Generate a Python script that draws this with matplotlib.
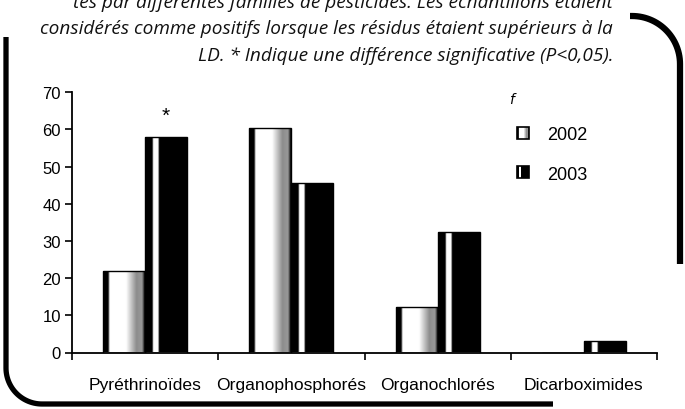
import numpy as np
import matplotlib
matplotlib.use("Agg")
import matplotlib.pyplot as plt
from matplotlib.patches import Rectangle, Patch
from matplotlib.legend_handler import HandlerPatch
from matplotlib.lines import Line2D

# data (% of positive samples)
categories = ["Pyréthrinoïdes", "Organophosphorés", "Organochlorés", "Dicarboximides"]
years = ["2002", "2003"]
values_2002 = [22, 60.5, 12.2, 0]
values_2003 = [58, 45.6, 32.4, 3.1]
significant_2003 = [True, False, False, False]
yticks = [0, 10, 20, 30, 40, 50, 60, 70]

caption_lines = [
    "tés par différentes familles de pesticides. Les échantillons étaient",
    "considérés comme positifs lorsque les résidus étaient supérieurs à la",
    "LD. * Indique une différence significative (P<0,05).",
]

W, H = 685, 410
BAR_WIDTH = 0.287

# grey level across the width of a bar (0 = black, 1 = white)
SHADES = {
    "2002": ([0.0, 0.12, 0.16, 0.55, 0.8, 0.93, 1.0], [0.0, 0.0, 1.0, 1.0, 0.55, 0.6, 0.0]),
    "2003": ([0.0, 0.17, 0.2, 0.31, 0.34, 1.0], [0.0, 0.0, 1.0, 1.0, 0.0, 0.0]),
}


def fx(px):
    return px / W


def fy(py):
    return 1 - py / H


def shade_bar(ax, rect, year):
    xs, gs = SHADES[year]
    row = np.interp(np.linspace(0, 1, 200), xs, gs)
    x0, y0 = rect.get_x(), rect.get_y()
    h = rect.get_height()
    if h <= 0:
        return
    im = ax.imshow(row[None, :], cmap="gray", vmin=0, vmax=1, aspect="auto",
                   extent=(x0, x0 + rect.get_width(), y0, y0 + h),
                   interpolation="bilinear", zorder=2)
    im.set_clip_path(rect)


class ShadedHandler(HandlerPatch):
    def __init__(self, year):
        super().__init__()
        self.year = year

    def create_artists(self, legend, orig_handle, xdescent, ydescent,
                       width, height, fontsize, trans):
        xs, gs = SHADES[self.year]
        n = 12
        out = []
        for k in range(n):
            g = float(np.interp((k + 0.5) / n, xs, gs))
            out.append(Rectangle((-xdescent + k * width / n, -ydescent), width / n, height,
                                 facecolor=str(g), edgecolor="none", transform=trans))
        out.append(Rectangle((-xdescent, -ydescent), width, height, facecolor="none",
                             edgecolor="black", linewidth=1.2, transform=trans))
        return out


fig = plt.figure(figsize=(W / 100, H / 100), dpi=100)
ax = fig.add_axes([fx(72), fy(353.5), fx(657) - fx(72), fy(93.3) - fy(353.5)])

centers = np.arange(len(categories)) + 0.5
bars_2002 = ax.bar(centers - BAR_WIDTH / 2, values_2002, BAR_WIDTH, facecolor="none",
                   edgecolor="black", linewidth=1.0, zorder=3)
bars_2003 = ax.bar(centers + BAR_WIDTH / 2, values_2003, BAR_WIDTH, facecolor="none",
                   edgecolor="black", linewidth=1.0, zorder=3)
for r in bars_2002:
    shade_bar(ax, r, "2002")
for r in bars_2003:
    shade_bar(ax, r, "2003")

for r, sig in zip(bars_2003, significant_2003):
    if sig:
        ax.annotate("*", (r.get_x() + r.get_width() / 2, r.get_height()),
                    xytext=(0, 9), textcoords="offset points", ha="center",
                    va="bottom", fontsize=15, family="Liberation Sans")

ax.set_xlim(0, len(categories))
ax.set_ylim(0, 70)
ax.set_yticks(yticks)
ax.set_xticks(np.arange(len(categories) + 1))
ax.set_xticklabels([])
ax.set_xticks(centers, categories, minor=True)
ax.tick_params(axis="x", which="minor", length=0, pad=18, labelsize=12.6)
ax.tick_params(axis="x", which="major", length=5, width=1.2, direction="out")
ax.tick_params(axis="y", length=5, width=1.2, labelsize=12, pad=3)
for lab in ax.get_xticklabels(minor=True) + ax.get_yticklabels():
    lab.set_family("Liberation Sans")
for side in ["top", "right"]:
    ax.spines[side].set_visible(False)
for side in ["left", "bottom"]:
    ax.spines[side].set_linewidth(1.3)

handles = [Patch(label=y) for y in years]
leg = ax.legend(handles, years, loc="upper left", frameon=False,
                bbox_to_anchor=(fx(517), fy(127)), bbox_transform=fig.transFigure,
                borderpad=0, borderaxespad=0, fontsize=13, handlelength=0.67,
                handleheight=0.67, handletextpad=1.0, labelspacing=1.25,
                handler_map={h: ShadedHandler(y) for h, y in zip(handles, years)},
                prop={"family": "Liberation Sans", "size": 13})
fig.text(fx(512), fy(100), "f", style="italic", fontsize=10, ha="center", va="center")

# caption above the chart (partly cut off at the top of the scan)
cap = dict(style="italic", fontsize=13.7, family="Open Sans", color="#111111")
fig.text(fx(613), fy(3), caption_lines[0], ha="right", va="center", **cap)
fig.text(fx(613), fy(29), caption_lines[1], ha="right", va="center", **cap)
fig.text(fx(613), fy(56), caption_lines[2], ha="right", va="center", **cap)

# rounded frame strokes of the page layout
t = np.linspace(np.pi, 1.5 * np.pi, 30)
r = 36
lx = np.concatenate([[6, 6], 6 + r + r * np.cos(t), [553]])
ly = np.concatenate([[38, 405 - r], 405 - r - r * np.sin(t), [405]])
fig.add_artist(Line2D(fx(lx), fy(ly), color="black", linewidth=3.8,
                      solid_capstyle="butt", transform=fig.transFigure))
t = np.linspace(0.5 * np.pi, 0, 30)
r = 48
rx = np.concatenate([[630], 632 + r * np.cos(t), [680]])
ry = np.concatenate([[17], 17 + r - r * np.sin(t), [265]])
fig.add_artist(Line2D(fx(rx), fy(ry), color="black", linewidth=4.5,
                      solid_capstyle="butt", transform=fig.transFigure))

fig.savefig("out.png", dpi=100)
